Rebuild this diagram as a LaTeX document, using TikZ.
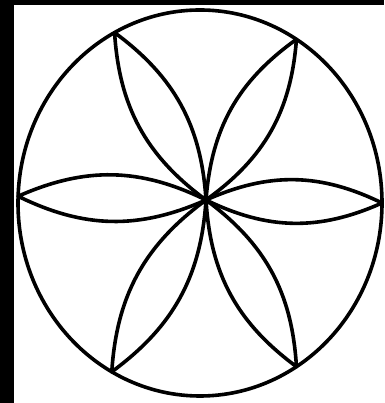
\documentclass[tikz,border=0pt]{standalone}
\usetikzlibrary{calc}

\begin{document}
\begin{tikzpicture}[x=1pt, y=1pt,
  rim/.style={line width=3.6pt, black},
  petal/.style={line width=3.6pt, black, line join=round}]
  \useasboundingbox (0,0) rectangle (384,403);
  \fill[white] (0,0) rectangle (384,403);
  % black edges of the scan
  \fill[black] (0,0) rectangle (14,403);
  \fill[black] (0,398) rectangle (384,403);

  \coordinate (mid) at (200,200);
  \coordinate (hub) at (206,203);
  \draw[rim] (mid) ellipse [x radius=182, y radius=193];

  \foreach \ang [count=\i] in {0,58,118,178,241,302}{
    \coordinate (tip\i) at ($(mid)+(\ang:182 and 193)$);
    \draw[petal] (hub) to[bend left=25] (tip\i) to[bend left=25] (hub);
  }
\end{tikzpicture}
\end{document}
